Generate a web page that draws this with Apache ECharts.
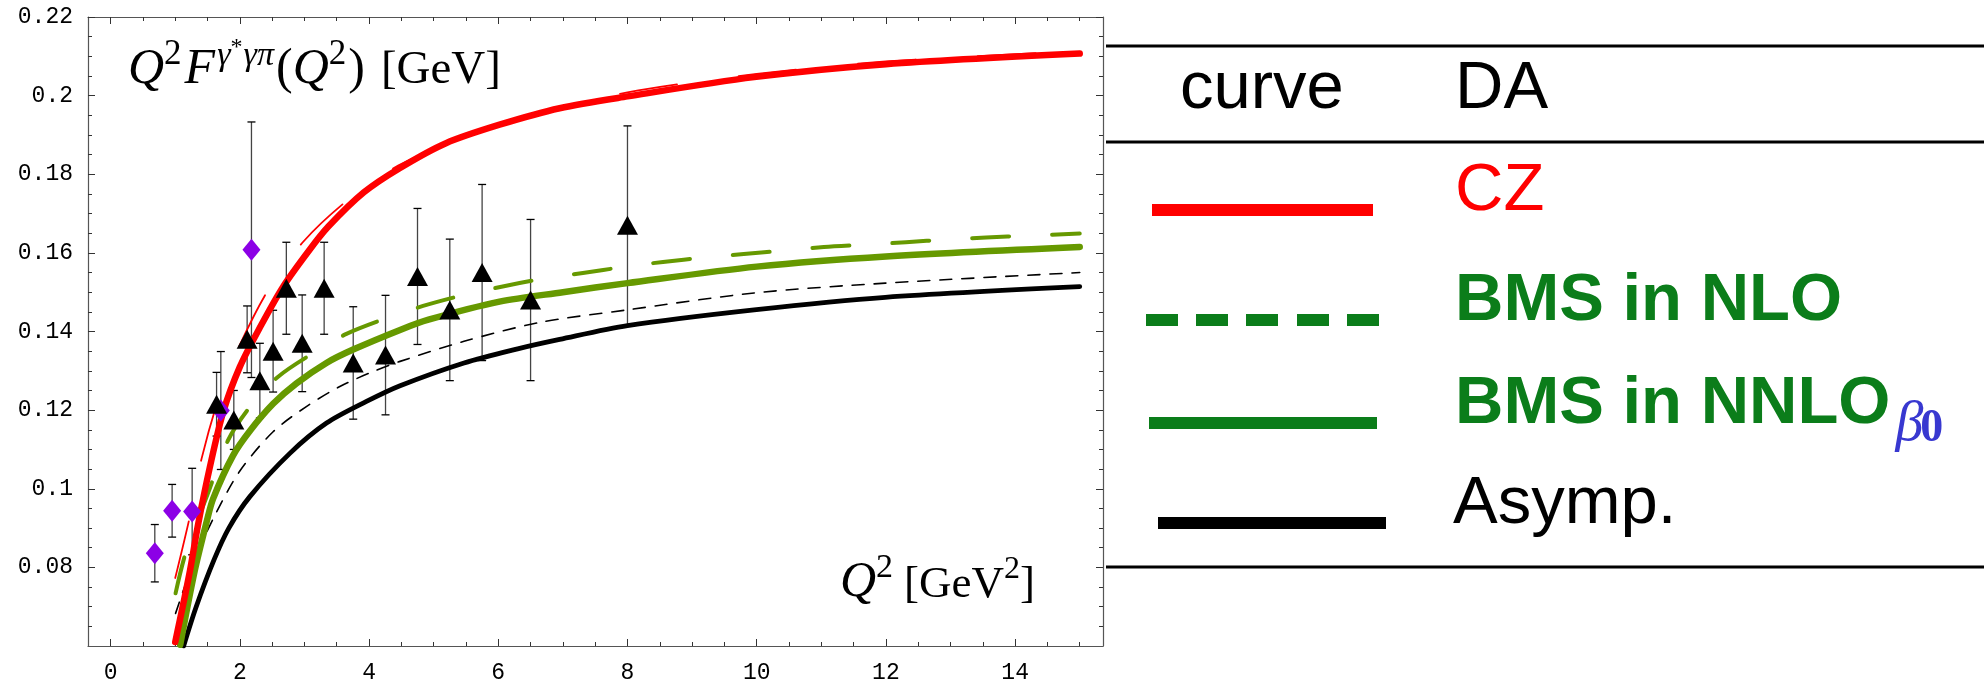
<!DOCTYPE html>
<html><head><meta charset="utf-8">
<script src="https://cdn.jsdelivr.net/npm/echarts@6/dist/echarts.min.js"></script>
<style>html,body{margin:0;padding:0;background:#fff}#c{width:1984px;height:684px}</style>
</head><body><div id="c"></div>
<script>
// ---------- data ----------
const czQ = [1.0, 1.215, 1.355, 1.536, 1.742, 2.0, 2.31, 2.67, 3.08, 3.37, 3.92, 4.48, 5.19, 6.02, 6.95, 8.0, 9.96, 12.0, 15.0];
const czV = [0.061, 0.078, 0.091, 0.1055, 0.1195, 0.131, 0.141, 0.1514, 0.1608, 0.1667, 0.1754, 0.1816, 0.1879, 0.1926, 0.1968, 0.1998, 0.2047, 0.2080, 0.2107];

const czNloQ = [1.0, 1.226, 1.407, 1.7, 2.0, 2.44, 2.985, 3.675, 4.45, 5.33, 6.22, 8.0, 10.0, 12.0, 15.0];
const czNloV = [0.0773, 0.0929, 0.1076, 0.1245, 0.1366, 0.1506, 0.1629, 0.1735, 0.1822, 0.1886, 0.1939, 0.2008, 0.2055, 0.2087, 0.2113];

const bmsNnloQ = [1.077, 1.30, 1.485, 1.587, 1.896, 2.155, 2.515, 2.877, 3.34, 3.754, 4.48, 4.92, 6.02, 7.0, 8.0, 10.0, 12.0, 15.0];
const bmsNnloV = [0.0603, 0.0790, 0.0915, 0.0975, 0.1085, 0.1147, 0.1216, 0.1268, 0.1320, 0.1354, 0.1404, 0.1430, 0.1476, 0.1500, 0.1523, 0.1565, 0.1591, 0.1615];

const bmsNloQ = [1.005, 1.164, 1.5, 1.82, 2.18, 2.593, 3.135, 3.65, 4.27, 4.836, 5.47, 6.05, 6.69, 7.31, 7.94, 8.55, 9.19, 9.8, 10.43, 11.04, 11.69, 12.31, 12.95, 13.55, 14.21, 15.0];
const bmsNloV = [0.0734, 0.0838, 0.0985, 0.1124, 0.1213, 0.1285, 0.1345, 0.1394, 0.1434, 0.1465, 0.1493, 0.1514, 0.1534, 0.1549, 0.1564, 0.1577, 0.1588, 0.1597, 0.1606, 0.1615, 0.1621, 0.1627, 0.1634, 0.1639, 0.1644, 0.1649];

const asympQ = [1.13, 1.325, 1.6, 1.83, 2.155, 2.774, 3.342, 3.96, 4.48, 5.47, 6.30, 6.95, 8.0, 9.96, 11.99, 15.0];
const asympV = [0.060, 0.0700, 0.0819, 0.0900, 0.0980, 0.1090, 0.1167, 0.1222, 0.1262, 0.1320, 0.1356, 0.1380, 0.1415, 0.1455, 0.1487, 0.1514];

const asympNloQ = [1.005, 1.3, 1.613, 2.0, 2.515, 3.03, 3.548, 4.06, 4.48, 5.47, 6.64, 8.0, 9.96, 11.99, 15.0];
const asympNloV = [0.0683, 0.0820, 0.0932, 0.1045, 0.1145, 0.1209, 0.1260, 0.1298, 0.1324, 0.1375, 0.1423, 0.1455, 0.1498, 0.1523, 0.1550];

const celloQ = [0.684, 0.952, 1.262, 1.706, 2.18];
const celloV = [0.0836, 0.0944, 0.0942, 0.1199, 0.1608];
const celloErr = [0.0073, 0.0067, 0.011, 0.015, 0.0325];

const cleoQ = [1.64, 1.907, 2.113, 2.31, 2.515, 2.72, 2.965, 3.305, 3.755, 4.255, 4.75, 5.25, 5.75, 6.50, 8.0];
const cleoV = [0.1215, 0.1175, 0.1380, 0.1275, 0.1350, 0.1510, 0.1370, 0.1510, 0.1320, 0.1340, 0.1540, 0.1455, 0.1550, 0.1480, 0.1670];
const cleoErr = [0.0081, 0.0075, 0.0085, 0.0095, 0.0104, 0.0117, 0.0123, 0.0117, 0.0143, 0.0152, 0.0173, 0.0180, 0.0224, 0.0205, 0.0253];

const xTickLabels = [0, 2, 4, 6, 8, 10, 12, 14];
const xMinorTicks = [0.5, 1, 1.5, 2.5, 3, 3.5, 4.5, 5, 5.5, 6.5, 7, 7.5, 8.5, 9, 9.5, 10.5, 11, 11.5, 12.5, 13, 13.5, 14.5, 15];
const yTickLabels = [0.08, 0.1, 0.12, 0.14, 0.16, 0.18, 0.2, 0.22];
const yMinorTicks = [0.065, 0.07, 0.075, 0.085, 0.09, 0.095, 0.105, 0.11, 0.115, 0.125, 0.13, 0.135, 0.145, 0.15, 0.155, 0.165, 0.17, 0.175, 0.185, 0.19, 0.195, 0.205, 0.21, 0.215];

const legendRows = ['CZ', 'BMS in NLO', 'BMS in NNLO', 'Asymp.'];

// ---------- helpers ----------
const X_MIN = -0.35, X_MAX = 15.36, Y_MIN = 0.06, Y_MAX = 0.22;
const zip = (a, b) => a.map((v, i) => [v, b[i]]);
const mctx = document.createElement('canvas').getContext('2d');
function tw(font, t) { mctx.font = font; return mctx.measureText(t).width; }
const MID = { serif: 0.3375, sans: 0.3465 };
function richLine(x0, base, pieces, defaults) {
  let x = x0; const els = [];
  for (const p0 of pieces) {
    const p = Object.assign({}, defaults, p0);
    const fam = p.family === 'sans' ? '"Liberation Sans"' : '"Liberation Serif"';
    const font = `${p.style || 'normal'} ${p.weight || 'normal'} ${p.size}px ${fam}`;
    const k = p.family === 'sans' ? MID.sans : MID.serif;
    els.push({ type: 'text', x: x, y: base - (p.dy || 0) - k * p.size, z: 100,
      style: { text: p.t, font: font, fill: p.color || '#000', align: 'left', verticalAlign: 'middle' } });
    x += tw(font, p.t) + (p.kern || 0);
  }
  return { els, end: x };
}

function axisX(pos, ticks, len, line, labels) {
  return { type: 'value', min: X_MIN, max: X_MAX, position: pos, gridIndex: 0,
    axisLine: { show: line, onZero: false, lineStyle: { color: '#555', width: 1.2 } },
    axisTick: { show: true, inside: true, length: len, customValues: ticks, lineStyle: { color: '#333', width: 1 } },
    axisLabel: labels ? { show: true, customValues: xTickLabels, margin: 15, fontFamily: '"Liberation Mono"', fontSize: 23, color: '#000' } : { show: false },
    splitLine: { show: false } };
}
function axisY(pos, ticks, len, line, labels) {
  return { type: 'value', min: Y_MIN, max: Y_MAX, position: pos, gridIndex: 0,
    axisLine: { show: line, onZero: false, lineStyle: { color: '#555', width: 1.2 } },
    axisTick: { show: true, inside: true, length: len, customValues: ticks, lineStyle: { color: '#333', width: 1 } },
    axisLabel: labels ? { show: true, customValues: yTickLabels, margin: 15, fontFamily: '"Liberation Mono"', fontSize: 23, color: '#000',
      formatter: v => String(+(+v).toFixed(3)) } : { show: false },
    splitLine: { show: false } };
}

function errRender(params, api) {
  const x = api.value(0), y = api.value(1), e = api.value(2);
  const t = api.coord([x, y + e]), b = api.coord([x, y - e]);
  const hw = 4;
  return { type: 'group', children: [
    { type: 'line', shape: { x1: t[0], y1: t[1], x2: b[0], y2: b[1] }, style: { stroke: '#444', lineWidth: 1.3 } },
    { type: 'line', shape: { x1: t[0] - hw, y1: t[1], x2: t[0] + hw, y2: t[1] }, style: { stroke: '#000', lineWidth: 1.3 } },
    { type: 'line', shape: { x1: b[0] - hw, y1: b[1], x2: b[0] + hw, y2: b[1] }, style: { stroke: '#000', lineWidth: 1.3 } }
  ] };
}

function curve(name, q, v, color, width, type, z) {
  return { name, type: 'line', data: zip(q, v), showSymbol: false, symbol: 'none', smooth: 0.3,
    lineStyle: { color, width, type, cap: 'round', join: 'round' }, z, silent: true, clip: true };
}

// ---------- graphics: labels & legend table ----------
const g = [];
let r = richLine(128, 87, [
  { t: 'Q', style: 'italic' }, { t: '2', size: 35, dy: 20, kern: 3 },
  { t: 'F', style: 'italic', kern: 2 }, { t: 'γ', style: 'italic', size: 34, dy: 19 },
  { t: '*', size: 24, dy: 31, kern: 1 }, { t: 'γπ', style: 'italic', size: 34, dy: 19, kern: 2 },
  { t: '(' }, { t: 'Q', style: 'italic' }, { t: '2', size: 35, dy: 20, kern: 2 }, { t: ')', kern: 16 },
  { t: '[GeV]', size: 47 }
], { family: 'serif', size: 50 }); g.push(...r.els);
r = richLine(840, 600, [
  { t: 'Q', style: 'italic' }, { t: '2', size: 34, dy: 20, kern: 11 }, { t: '[GeV', size: 45 }, { t: '2', size: 32, dy: 20 }, { t: ']', size: 45 }
], { family: 'serif', size: 50 }); g.push(...r.els);

// table rules
[46, 142, 567].forEach(y => g.push({ type: 'line', shape: { x1: 1106, y1: y, x2: 1984, y2: y }, style: { stroke: '#000', lineWidth: 3 } }));
const sans = { family: 'sans', size: 67 };
g.push(...richLine(1180, 113, [{ t: 'curve' }], sans).els);
g.push(...richLine(1455, 113, [{ t: 'DA' }], sans).els);
g.push(...richLine(1455, 215, [{ t: legendRows[0], color: '#ff0000' }], sans).els);
g.push(...richLine(1455, 325, [{ t: legendRows[1], color: '#0b7d1a', weight: 'bold' }], sans).els);
r = richLine(1455, 428, [{ t: legendRows[2], color: '#0b7d1a', weight: 'bold' }], sans); g.push(...r.els);
g.push(...richLine(r.end + 5, 444, [{ t: 'β', style: 'italic', color: '#3838d0', size: 56, kern: -3 }, { t: '0', weight: 'bold', color: '#3838d0', size: 46, dy: -1 }], { family: 'serif', size: 50 }).els);
g.push(...richLine(1453, 528, [{ t: legendRows[3] }], sans).els);
// legend line samples
g.push({ type: 'rect', shape: { x: 1152, y: 204, width: 221, height: 12 }, style: { fill: '#ff0000' } });
[1146, 1196, 1246, 1297, 1347].forEach(x => g.push({ type: 'rect', shape: { x: x, y: 314, width: 32, height: 12 }, style: { fill: '#0b7d1a' } }));
g.push({ type: 'rect', shape: { x: 1149, y: 417, width: 228, height: 12 }, style: { fill: '#0b7d1a' } });
g.push({ type: 'rect', shape: { x: 1158, y: 517, width: 228, height: 12 }, style: { fill: '#000' } });

// ---------- chart ----------
const chart = echarts.init(document.getElementById('c'), null, { renderer: 'canvas' });
chart.setOption({
  animation: false,
  backgroundColor: '#fff',
  grid: { left: 88, right: 881, top: 17, bottom: 38 },
  xAxis: [axisX('bottom', xTickLabels, 7, true, true), axisX('bottom', xMinorTicks, 4, false, false),
          axisX('top', xTickLabels, 7, true, false), axisX('top', xMinorTicks, 4, false, false)],
  yAxis: [axisY('left', yTickLabels, 7, true, true), axisY('left', yMinorTicks, 4, false, false),
          axisY('right', yTickLabels, 7, true, false), axisY('right', yMinorTicks, 4, false, false)],
  series: [
    { type: 'custom', name: 'CELLO err', renderItem: errRender, data: celloQ.map((q, i) => [q, celloV[i], celloErr[i]]), encode: { x: 0, y: 1 }, z: 1, silent: true },
    { type: 'custom', name: 'CLEO err', renderItem: errRender, data: cleoQ.map((q, i) => [q, cleoV[i], cleoErr[i]]), encode: { x: 0, y: 1 }, z: 1, silent: true },
    curve('Asymp NLO', asympNloQ, asympNloV, '#000', 1.6, [12, 10], 2),
    curve('CZ NLO', czNloQ, czNloV, '#ff0000', 1.8, [58, 62], 2),
    curve('BMS in NLO', bmsNloQ, bmsNloV, '#669900', 4, [37, 43], 3),
    curve('Asymp.', asympQ, asympV, '#000', 4.8, 'solid', 3),
    curve('BMS in NNLO', bmsNnloQ, bmsNnloV, '#669900', 6.5, 'solid', 4),
    curve('CZ', czQ, czV, '#ff0000', 6.5, 'solid', 5),
    { type: 'scatter', name: 'CELLO', data: zip(celloQ, celloV), symbol: 'diamond', symbolSize: [18, 22], itemStyle: { color: '#8c00e6', opacity: 1 }, z: 6, silent: true },
    { type: 'scatter', name: 'CLEO', data: zip(cleoQ, cleoV), symbol: 'triangle', symbolSize: [21, 19], itemStyle: { color: '#000', opacity: 1 }, z: 6, silent: true }
  ],
  graphic: { elements: g }
});
</script></body></html>
